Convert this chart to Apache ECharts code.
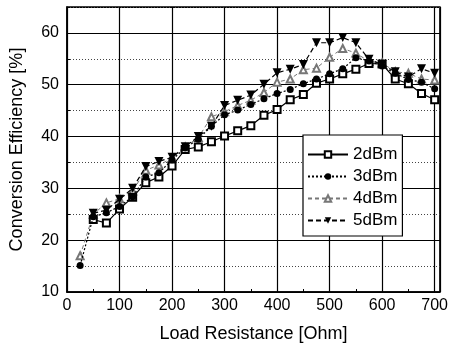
<!DOCTYPE html>
<html><head><meta charset="utf-8">
<script src="https://cdn.jsdelivr.net/npm/echarts@6/dist/echarts.min.js"></script>
<style>html,body{margin:0;padding:0;background:#fff}#c{width:451px;height:351px}</style>
</head><body><div id="c"></div>
<script>
const resistance = [25,50,75,100,125,150,175,200,225,250,275,300,325,350,375,400,425,450,475,500,525,550,575,600,625,650,675,700];
const eff2dBm = [null,24,23.3,26,28.3,31.1,32.2,34.3,37.5,38,39,40.1,41.1,42.1,44.1,45.2,47.1,48.1,50.3,51.1,52.1,53,54.1,54,51.1,50.2,48.3,47.1];
const eff3dBm = [15.1,24.5,25.3,26.5,28.4,32.2,33,35.5,37.8,39.5,42,44.2,45.1,46.2,47.3,48.3,49.1,50.2,51.1,52.1,53.1,55.2,54.6,53.6,52.2,51,50.5,49.2];
const eff4dBm = [17,25,27.2,28,29.5,33.5,34.5,35.8,38,39.8,43.8,44.8,46,47,48.5,50.5,51.1,52.9,53.2,55.3,57,56.1,54.5,54.2,52.5,52.2,51.1,50.9];
const eff5dBm = [null,25.2,25.8,27.9,30,34.2,35.2,36,38.05,40,42,46,47,48,50.1,52.3,53,53.9,58.1,58.1,59.1,58.1,54.9,53.9,52.5,51.5,53.1,52.2];
const seriesNames = ['2dBm','3dBm','4dBm','5dBm'];
const xTicks = [0,100,200,300,400,500,600,700];
const yTicks = [10,20,30,40,50,60];

const pair = arr => resistance.map((r,i)=>[r,arr[i]]);
const font = 'Liberation Sans, Arial, sans-serif';
const chart = echarts.init(document.getElementById('c'));
chart.setOption({
  animation:false,
  backgroundColor:'#fff',
  grid:{left:67,right:8,top:7,bottom:59,show:true,borderColor:'#000',borderWidth:1.5,backgroundColor:'transparent'},
  xAxis:{type:'value',min:0,max:710,interval:100,
    name:'Load Resistance [Ohm]',nameLocation:'middle',nameGap:33,
    nameTextStyle:{fontFamily:font,fontSize:18,color:'#000'},
    axisLine:{lineStyle:{color:'#000',width:1.5}},
    axisTick:{inside:true,length:5,lineStyle:{color:'#000'}},
    minorTick:{show:true,splitNumber:2,length:3,lineStyle:{color:'#000'}},
    axisLabel:{fontFamily:font,fontSize:16,color:'#000',margin:6,showMaxLabel:false,
      formatter:v=>xTicks.includes(v)?String(v):''},
    splitLine:{show:true,lineStyle:{color:'#000',width:1.2}}},
  yAxis:[{type:'value',min:10,max:65,interval:10,
    name:'Conversion Efficiency [%]',nameLocation:'middle',nameGap:41,
    nameTextStyle:{fontFamily:font,fontSize:18,color:'#000'},
    axisLine:{lineStyle:{color:'#000',width:1.5}},
    axisTick:{inside:true,length:5,lineStyle:{color:'#000'}},
    minorTick:{show:false},
    axisLabel:{fontFamily:font,fontSize:16,color:'#000',margin:8,showMaxLabel:false,
      formatter:v=>yTicks.includes(v)?String(v):''},
    splitLine:{show:true,lineStyle:{color:'#000',width:1.2}}},
   {type:'value',min:10,max:65,interval:5,position:'left',
    axisLine:{show:false},axisLabel:{show:false},
    axisTick:{show:true,inside:true,length:3,lineStyle:{color:['transparent','#000']}},
    splitLine:{show:true,lineStyle:{color:['transparent','#444'],type:[1,2],width:1}}}],
  legend:{left:303,top:135,orient:'vertical',data:seriesNames,
    backgroundColor:'#fff',borderColor:'#000',borderWidth:1.2,borderRadius:0,
    padding:[11,5,7,4],itemGap:5,itemWidth:40,itemHeight:8,
    textStyle:{fontFamily:font,fontSize:17,color:'#000',padding:[0,0,0,0]}},
  series:[
    {name:'2dBm',type:'line',data:pair(eff2dBm),symbol:'emptyRect',symbolSize:7,
      itemStyle:{color:'#000',borderColor:'#000',borderWidth:1},
      lineStyle:{color:'#000',width:1.2,type:'solid'},z:5},
    {name:'3dBm',type:'line',data:pair(eff3dBm),symbol:'circle',symbolSize:7,
      itemStyle:{color:'#000'},
      lineStyle:{color:'#000',width:1.2,type:[2,2]},z:6},
    {name:'4dBm',type:'line',data:pair(eff4dBm),symbol:'emptyTriangle',symbolSize:7,
      itemStyle:{color:'#777',borderColor:'#777',borderWidth:1},
      lineStyle:{color:'#777',width:1,type:[4,3]},z:4},
    {name:'5dBm',type:'line',data:pair(eff5dBm),symbol:'triangle',symbolRotate:180,symbolSize:9,
      itemStyle:{color:'#000'},
      lineStyle:{color:'#000',width:1.2,type:[5,3]},z:7}
  ]
});
</script></body></html>
